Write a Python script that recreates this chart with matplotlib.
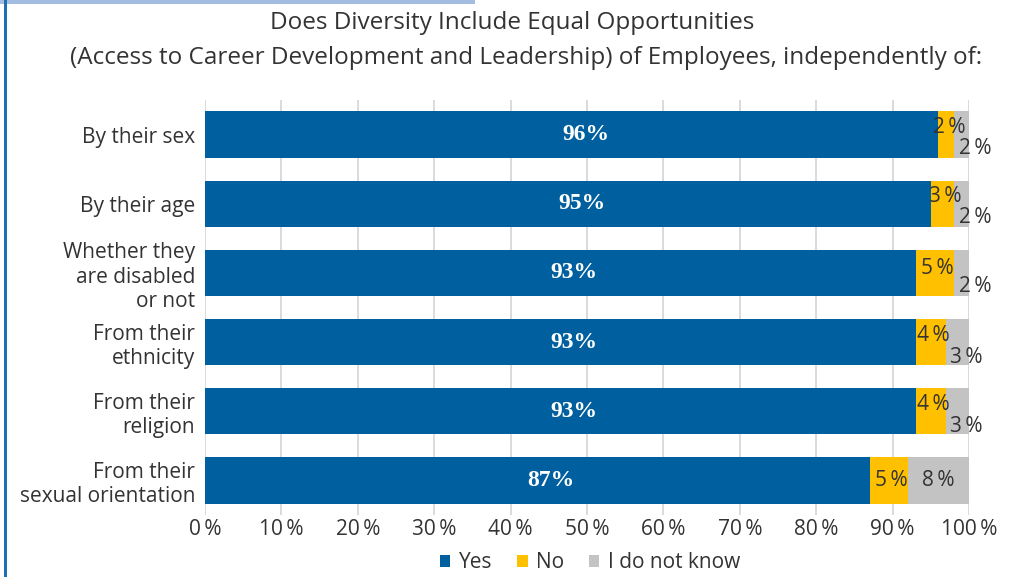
import matplotlib.pyplot as plt
import numpy as np

plt.rcParams['font.family'] = ['Open Sans', 'DejaVu Sans']

categories = ['By their sex', 'By their age', 'Whether they\nare disabled\nor not',
              'From their\nethnicity', 'From their\nreligion',
              'From their\nsexual orientation']
yes = [96, 95, 93, 93, 93, 87]
no = [2, 3, 5, 4, 4, 5]
dont_know = [2, 2, 2, 3, 3, 8]

c_yes = '#005f9e'
c_no = '#ffc000'
c_dk = '#c3c3c3'
txt = '#333333'
TS = '\u2009'

fig = plt.figure(figsize=(10.15, 5.77), dpi=100)
ax = fig.add_axes([205/1015, 1 - 515/577, 764/1015, 415/577])

y = np.arange(len(categories))
h = 0.67
ax.barh(y, yes, h, color=c_yes, label='Yes', zorder=2)
ax.barh(y, no, h, left=yes, color=c_no, label='No', zorder=2)
left_dk = np.array(yes) + np.array(no)
ax.barh(y, dont_know, h, left=left_dk, color=c_dk, label='I do not know', zorder=2)

for i in range(len(categories)):
    ax.annotate(f'{yes[i]}%', (yes[i] / 2, y[i]), xytext=(10, 0),
                textcoords='offset points', ha='center', va='center',
                color='white', fontsize=17, fontweight='bold',
                family=['Liberation Serif', 'DejaVu Serif'], zorder=3)
    # small segments get their labels nudged so they don't collide
    dy_no = 5 if no[i] < 5 else (3 if dont_know[i] < 5 else 0)
    ax.annotate(f'{no[i]}{TS}%', (yes[i] + no[i] / 2, y[i]), xytext=(2, dy_no),
                textcoords='offset points', ha='center', va='center',
                color=txt, fontsize=15, zorder=3)
    if dont_know[i] < 5:
        off = (10, -10) if dont_know[i] < 3 else (6, -11)
    else:
        off = (0, 0)
    ax.annotate(f'{dont_know[i]}{TS}%', (left_dk[i] + dont_know[i] / 2, y[i]),
                xytext=off, textcoords='offset points', ha='center',
                va='center', color=txt, fontsize=15, zorder=3)

ax.set_xlim(0, 100)
ax.set_ylim(len(categories) - 0.5, -0.5)
ax.set_xticks(np.arange(0, 101, 10))
ax.set_xticklabels([f'{v}{TS}%' for v in range(0, 101, 10)])
ax.set_yticks(y)
ax.set_yticklabels(categories, linespacing=1.2)
ax.tick_params(axis='both', length=0, labelsize=15, colors=txt)
ax.tick_params(axis='y', pad=7)
ax.tick_params(axis='x', pad=3)
ax.grid(axis='x', color='#d4d4d4', linewidth=1.2, zorder=0)
for s in ax.spines.values():
    s.set_visible(False)

fig.text(0.505, 1 - 23/577, 'Does Diversity Include Equal Opportunities',
         ha='center', va='center', fontsize=17.5, color=txt)
fig.text(0.518, 1 - 58/577,
         '(Access to Career Development and Leadership) of Employees, independently of:',
         ha='center', va='center', fontsize=17.5, color=txt)

ax.legend(loc='center', bbox_to_anchor=(590/1015, 1 - 563/577),
          bbox_transform=fig.transFigure, ncol=3, frameon=False,
          fontsize=15, handlelength=0.5, handleheight=0.5, handletextpad=0.4,
          columnspacing=1.2, labelcolor=txt)

# frame accents along the top and left edges
fig.add_artist(plt.Rectangle((0, 1 - 4/577), 475/1015, 4/577,
                             transform=fig.transFigure, color='#a3bcdf', lw=0))
fig.add_artist(plt.Rectangle((4/1015, 0), 2.5/1015, 1,
                             transform=fig.transFigure, color='#1f6fb5', lw=0))

fig.savefig('out.png', dpi=100)
